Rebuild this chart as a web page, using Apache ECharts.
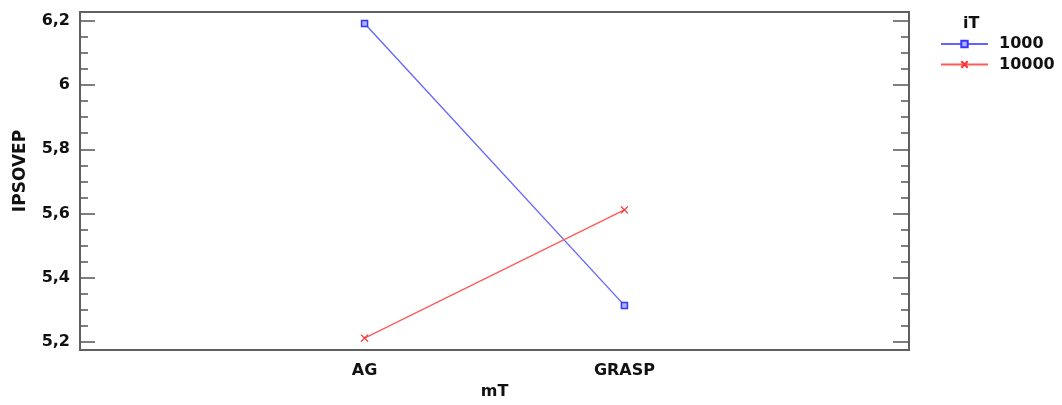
<!DOCTYPE html>
<html>
<head>
<meta charset="utf-8">
<script src="https://cdn.jsdelivr.net/npm/echarts@6/dist/echarts.min.js"></script>
<style>
html,body{margin:0;padding:0;background:#ffffff;}
#InteractionGraph{width:1062px;height:405px;}
</style>
</head>
<body>
<div id="InteractionGraph"></div>
<script>
var categories = ['AG', 'GRASP'];
var seriesNames = ['1000', '10000'];
var values1000 = [6.192, 5.313];
var values10000 = [5.211, 5.611];
var yMajorTicks = [5.2, 5.4, 5.6, 5.8, 6.0, 6.2];
var yMinorTicks = [5.25, 5.3, 5.35, 5.45, 5.5, 5.55, 5.65, 5.7, 5.75, 5.85, 5.9, 5.95, 6.05, 6.1, 6.15];

var myChart = echarts.init(document.getElementById('InteractionGraph'));
var FONT = 'DejaVu Sans';
var tickColor = '#555555';

function toPoints(vals){
    var out = [];
    for (var i = 0; i < vals.length; i++) {
        out.push([i, vals[i]]);
    }
    return out;
}

function yAxisDef(pos, ticks, len, labels){
    return {
        type: 'value',
        position: pos,
        min: 5.174,
        max: 6.228,
        axisLine: {show: false, onZero: false},
        splitLine: {show: false},
        axisTick: {
            show: true,
            inside: true,
            length: len,
            customValues: ticks,
            lineStyle: {color: tickColor, width: 1.5}
        },
        axisLabel: {
            show: labels,
            customValues: ticks,
            margin: 10,
            color: '#111',
            fontFamily: FONT,
            fontWeight: 'bold',
            fontSize: 16,
            formatter: function (v) {
                return String(Math.round(v * 10) / 10).replace('.', ',');
            }
        }
    };
}

var yLeft = yAxisDef('left', yMajorTicks, 15, true);
yLeft.name = 'IPSOVEP';
yLeft.nameLocation = 'middle';
yLeft.nameGap = 51;
yLeft.nameTextStyle = {color: '#111', fontFamily: FONT, fontWeight: 'bold', fontSize: 17, padding: [0, 0, 0, 20]};

option = {
    animation: false,
    title: {
        text: 'iT',
        left: 958,
        top: 11,
        textStyle: {color: '#111', fontFamily: FONT, fontWeight: 'bold', fontSize: 16}
    },
    legend: {
        orient: 'vertical',
        left: 935,
        top: 31,
        itemWidth: 47,
        itemHeight: 8,
        itemGap: 4.5,
        data: seriesNames,
        textStyle: {color: '#111', fontFamily: FONT, fontWeight: 'bold', fontSize: 16, padding: [0, 0, 0, 6]}
    },
    grid: {
        left: 80,
        right: 153,
        top: 12,
        bottom: 51,
        show: true,
        borderColor: '#606060',
        borderWidth: 2
    },
    xAxis: {
        type: 'value',
        min: -1.095,
        max: 2.095,
        name: 'mT',
        nameLocation: 'middle',
        nameGap: 34,
        nameTextStyle: {color: '#111', fontFamily: FONT, fontWeight: 'bold', fontSize: 16},
        axisLine: {show: false, onZero: false},
        axisTick: {show: false},
        splitLine: {show: false},
        axisLabel: {
            customValues: [0, 1],
            margin: 13,
            color: '#111',
            fontFamily: FONT,
            fontWeight: 'bold',
            fontSize: 16,
            formatter: function (v) {
                return categories[Math.round(v)];
            }
        }
    },
    yAxis: [
        yLeft,
        yAxisDef('left', yMinorTicks, 8, false),
        yAxisDef('right', yMajorTicks, 16, false),
        yAxisDef('right', yMinorTicks, 8, false)
    ],
    series: [
        {
            name: seriesNames[0],
            type: 'line',
            data: toPoints(values1000),
            symbol: 'rect',
            symbolSize: 6,
            lineStyle: {color: '#6262ff', width: 1.3},
            itemStyle: {color: '#b0b4ff', borderColor: '#3434ff', borderWidth: 1.5}
        },
        {
            name: seriesNames[1],
            type: 'line',
            data: toPoints(values10000),
            symbol: 'path://M0,0L10,10M10,0L0,10',
            symbolSize: 7,
            lineStyle: {color: '#ff5a5a', width: 1.3},
            itemStyle: {color: 'transparent', borderColor: '#ff3030', borderWidth: 1.3}
        }
    ]
};

if (option && typeof option === "object") {
    myChart.setOption(option, true);
    window.onresize = myChart.resize;
}
</script>
</body>
</html>
